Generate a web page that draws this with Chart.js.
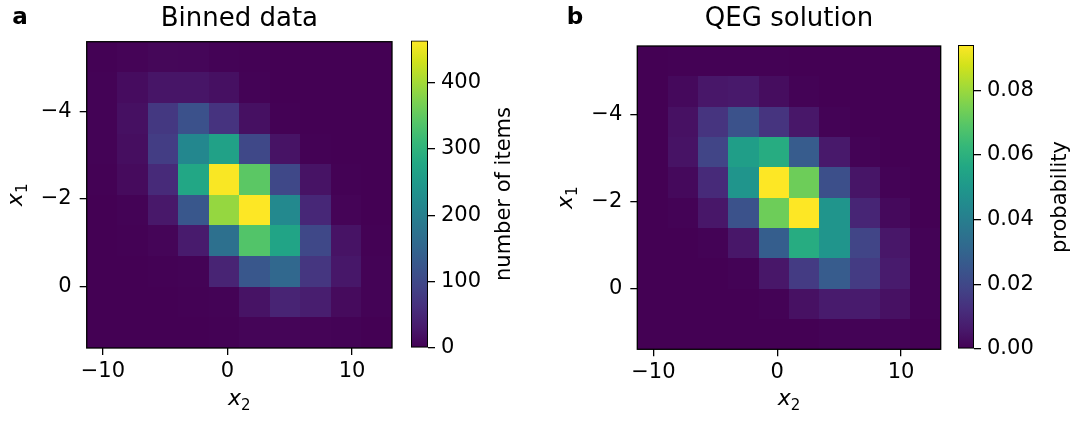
<!DOCTYPE html>
<html>
<head>
<meta charset="utf-8">
<script src="https://cdn.jsdelivr.net/npm/chart.js@4.4.1/dist/chart.umd.min.js"></script>
<style>
  body { margin: 0; background: #fff; width: 1072px; height: 422px; overflow: hidden; position: relative; }
  canvas { position: absolute; top: 0; }
</style>
</head>
<body>
<canvas id="heatA" width="400" height="422" style="left:0px"></canvas>
<canvas id="barA" width="150" height="422" style="left:400px"></canvas>
<canvas id="heatB" width="395" height="422" style="left:550px"></canvas>
<canvas id="barB" width="127" height="422" style="left:945px"></canvas>
<script>
// bin edges (x2 horizontal, x1 vertical, top row first)
const xEdges = [-11.3, -8.85, -6.4, -3.95, -1.5, 0.95, 3.4, 5.85, 8.3, 10.75, 13.2];
const yEdges = [-5.59, -4.89, -4.19, -3.49, -2.79, -2.09, -1.39, -0.69, 0.01, 0.71, 1.41];
const xTicks = [-10, 0, 10];
const yTicks = [-4, -2, 0];

// panel a: number of items per bin
const countsA = [
    [1, 4, 7, 6, 3, 1, 0, 0, 0, 0],
    [2, 14, 25, 25, 18, 2, 0, 0, 0, 0],
    [2, 18, 75, 115, 68, 18, 1, 0, 0, 0],
    [2, 16, 83, 215, 265, 100, 22, 1, 0, 0],
    [1, 12, 55, 275, 460, 345, 100, 22, 1, 0],
    [0, 3, 28, 125, 390, 463, 218, 50, 4, 0],
    [0, 1, 5, 32, 170, 338, 270, 100, 22, 1],
    [0, 0, 1, 2, 45, 125, 155, 72, 27, 3],
    [0, 0, 0, 1, 3, 22, 45, 37, 12, 3],
    [0, 0, 0, 0, 1, 5, 5, 4, 2, 0]
];
const countTicks = [0, 100, 200, 300, 400];
const countMax = 463;

// panel b: QEG probabilities
const probB = [
    [0, 0.0002, 0.0003, 0.0003, 0.0002, 0, 0, 0, 0, 0],
    [0, 0.002, 0.0055, 0.006, 0.003, 0.0005, 0, 0, 0, 0],
    [0, 0.004, 0.014, 0.0235, 0.014, 0.0055, 0.0005, 0, 0, 0],
    [0, 0.0045, 0.019, 0.0525, 0.058, 0.027, 0.006, 0.0005, 0, 0],
    [0, 0.002, 0.011, 0.049, 0.094, 0.073, 0.0225, 0.005, 0.0005, 0],
    [0, 0.0005, 0.0055, 0.0235, 0.073, 0.094, 0.049, 0.0095, 0.002, 0],
    [0, 0, 0.0005, 0.0055, 0.028, 0.058, 0.049, 0.019, 0.0055, 0.0005],
    [0, 0, 0, 0.0005, 0.0055, 0.016, 0.027, 0.016, 0.0065, 0.0005],
    [0, 0, 0, 0, 0.0005, 0.004, 0.0065, 0.0065, 0.004, 0.0005],
    [0, 0, 0, 0, 0, 0, 0.0005, 0.0005, 0.0005, 0]
];
const probTicks = [0, 0.02, 0.04, 0.06, 0.08];
const probMax = 0.094;

const FONT = 'DejaVu Sans';
Chart.defaults.font.family = FONT;
Chart.defaults.color = '#000';

// viridis colour stops
const viridis = [
    [68, 1, 84], [72, 26, 108], [71, 47, 125], [65, 68, 135], [57, 86, 140],
    [49, 104, 142], [42, 120, 142], [35, 136, 142], [31, 152, 139], [34, 168, 132],
    [53, 183, 121], [84, 197, 104], [122, 209, 81], [165, 219, 54], [210, 226, 27],
    [253, 231, 37]
];
function viridisColor(t) {
    t = Math.max(0, Math.min(1, t));
    const p = t * (viridis.length - 1);
    const i = Math.min(Math.floor(p), viridis.length - 2);
    const f = p - i;
    const a = viridis[i], b = viridis[i + 1];
    const c = a.map((v, k) => Math.round(v + (b[k] - v) * f));
    return 'rgb(' + c.join(',') + ')';
}

function minusSign(v) {
    return String(v).replace('-', '\u2212');
}

// draws each bin as a rectangle through the chart scales
const heatmapPlugin = {
    id: 'heatmapCells',
    beforeDatasetsDraw(chart) {
        const ds = chart.data.datasets[0];
        const xs = chart.scales.x, ys = chart.scales.y;
        const ctx = chart.ctx;
        ctx.save();
        ds.data.forEach(cell => {
            const x0 = Math.round(xs.getPixelForValue(cell.x0)), x1 = Math.round(xs.getPixelForValue(cell.x1));
            const y0 = Math.round(ys.getPixelForValue(cell.y0)), y1 = Math.round(ys.getPixelForValue(cell.y1));
            ctx.fillStyle = viridisColor(cell.v / ds.vmax);
            ctx.fillRect(Math.min(x0, x1), Math.min(y0, y1), Math.abs(x1 - x0), Math.abs(y1 - y0));
        });
        ctx.restore();
    },
    afterDraw(chart) {
        const a = chart.chartArea;
        const ctx = chart.ctx;
        ctx.save();
        ctx.strokeStyle = '#000';
        ctx.lineWidth = 1.3;
        ctx.strokeRect(a.left, a.top, a.right - a.left, a.bottom - a.top);
        ctx.restore();
    }
};

// plain text and "x with subscript" labels
function drawLabel(ctx, it) {
    ctx.save();
    ctx.translate(it.x, it.y);
    ctx.rotate(it.rot || 0);
    ctx.fillStyle = '#000';
    if (it.sub) {
        const mainFont = 'italic ' + it.size + 'px "' + FONT + '"';
        const subFont = Math.round(it.size * 0.7) + 'px "' + FONT + '"';
        ctx.font = mainFont;
        const w1 = ctx.measureText(it.text).width;
        ctx.font = subFont;
        const w2 = ctx.measureText(it.sub).width;
        const start = -(w1 + w2) / 2;
        ctx.textAlign = 'left';
        ctx.textBaseline = 'alphabetic';
        ctx.font = mainFont;
        ctx.fillText(it.text, start, 0);
        ctx.font = subFont;
        ctx.fillText(it.sub, start + w1, it.size * 0.24);
    } else {
        ctx.font = (it.weight || 'normal') + ' ' + it.size + 'px "' + FONT + '"';
        ctx.textAlign = 'center';
        ctx.textBaseline = it.baseline || 'middle';
        ctx.fillText(it.text, 0, 0);
    }
    ctx.restore();
}

function textPlugin(getItems) {
    return {
        id: 'extraText',
        afterDraw(chart) {
            getItems(chart).forEach(it => drawLabel(chart.ctx, it));
        }
    };
}

function buildCells(grid) {
    const cells = [];
    grid.forEach((row, r) => {
        row.forEach((v, c) => {
            cells.push({
                x: (xEdges[c] + xEdges[c + 1]) / 2,
                y: (yEdges[r] + yEdges[r + 1]) / 2,
                x0: xEdges[c], x1: xEdges[c + 1],
                y0: yEdges[r], y1: yEdges[r + 1],
                v: v
            });
        });
    });
    return cells;
}

function makeHeatmap(id, grid, vmax, title, letter, cfg) {
    new Chart(document.getElementById(id), {
        type: 'scatter',
        data: {
            datasets: [{
                data: buildCells(grid),
                vmax: vmax,
                pointRadius: 0,
                pointHoverRadius: 0
            }]
        },
        options: {
            responsive: false,
            animation: false,
            events: [],
            layout: { padding: { left: 0, right: cfg.padRight, top: cfg.top, bottom: 0 } },
            plugins: {
                legend: { display: false },
                tooltip: { enabled: false }
            },
            scales: {
                x: {
                    type: 'linear',
                    min: xEdges[0],
                    max: xEdges[xEdges.length - 1],
                    afterBuildTicks: s => { s.ticks = xTicks.map(v => ({ value: v })); },
                    afterFit: s => { s.height = cfg.xAxisHeight; },
                    ticks: { font: { size: 21 }, padding: 4, maxRotation: 0, callback: v => minusSign(v) },
                    grid: { drawOnChartArea: false, drawTicks: true, tickLength: 7, color: '#000', lineWidth: 1.3 },
                    border: { display: false }
                },
                y: {
                    type: 'linear',
                    reverse: true,
                    min: yEdges[0],
                    max: yEdges[yEdges.length - 1],
                    afterBuildTicks: s => { s.ticks = yTicks.map(v => ({ value: v })); },
                    afterFit: s => { s.width = cfg.yAxisWidth; },
                    ticks: { font: { size: 21 }, padding: 8, callback: v => minusSign(v) },
                    grid: { drawOnChartArea: false, drawTicks: true, tickLength: 7, color: '#000', lineWidth: 1.3 },
                    border: { display: false }
                }
            }
        },
        plugins: [heatmapPlugin, textPlugin(chart => {
            const a = chart.chartArea;
            const cx = (a.left + a.right) / 2, cy = (a.top + a.bottom) / 2;
            return [
                { text: title, x: cx, y: 19, size: 26 },
                { text: letter, x: cfg.letterX, y: 18, size: 23, weight: 'bold' },
                { text: 'x', sub: '2', x: cx, y: 405, size: 22 },
                { text: 'x', sub: '1', x: 22, y: cy, size: 22, rot: -Math.PI / 2 }
            ];
        })]
    });
}

function makeColorbar(id, vmax, ticks, label, fmt, cfg) {
    new Chart(document.getElementById(id), {
        type: 'bar',
        data: {
            labels: [''],
            datasets: [{
                data: [vmax],
                backgroundColor: ctx => {
                    const chart = ctx.chart;
                    if (!chart.chartArea) return viridisColor(0.5);
                    const ys = chart.scales.y;
                    const g = chart.ctx.createLinearGradient(0, ys.getPixelForValue(0), 0, ys.getPixelForValue(vmax));
                    viridis.forEach((c, i) => g.addColorStop(i / (viridis.length - 1), 'rgb(' + c.join(',') + ')'));
                    return g;
                },
                borderColor: '#000',
                borderWidth: 1.3,
                borderSkipped: false,
                barPercentage: 1,
                categoryPercentage: 1
            }]
        },
        options: {
            responsive: false,
            animation: false,
            events: [],
            layout: { padding: { left: cfg.left, right: 0, top: cfg.top, bottom: cfg.bottom } },
            plugins: { legend: { display: false }, tooltip: { enabled: false } },
            scales: {
                x: { display: false },
                y: {
                    position: 'right',
                    min: 0,
                    max: vmax,
                    afterBuildTicks: s => { s.ticks = ticks.map(v => ({ value: v })); },
                    afterFit: s => { s.width = cfg.axisWidth; },
                    ticks: { font: { size: 21 }, padding: 6, callback: v => fmt(v) },
                    grid: { drawOnChartArea: false, drawTicks: true, tickLength: 7, color: '#000', lineWidth: 1.3 },
                    border: { display: false }
                }
            }
        },
        plugins: [textPlugin(() => [{ text: label, x: cfg.labelX, y: cfg.labelY, size: 21, rot: -Math.PI / 2 }])]
    });
}

makeHeatmap('heatA', countsA, countMax, 'Binned data', 'a',
    { padRight: 8, top: 41.7, xAxisHeight: 74, yAxisWidth: 86.7, letterX: 20 });
makeHeatmap('heatB', probB, probMax, 'QEG solution', 'b',
    { padRight: 4.3, top: 46, xAxisHeight: 72.7, yAxisWidth: 87.3, letterX: 25 });

makeColorbar('barA', countMax, countTicks, 'number of items', v => String(v),
    { left: 11, top: 40.5, bottom: 74, axisWidth: 122, labelX: 105, labelY: 194 });
makeColorbar('barB', probMax, probTicks, 'probability', v => v.toFixed(2),
    { left: 13, top: 45, bottom: 73, axisWidth: 98, labelX: 116, labelY: 197 });
</script>
</body>
</html>
